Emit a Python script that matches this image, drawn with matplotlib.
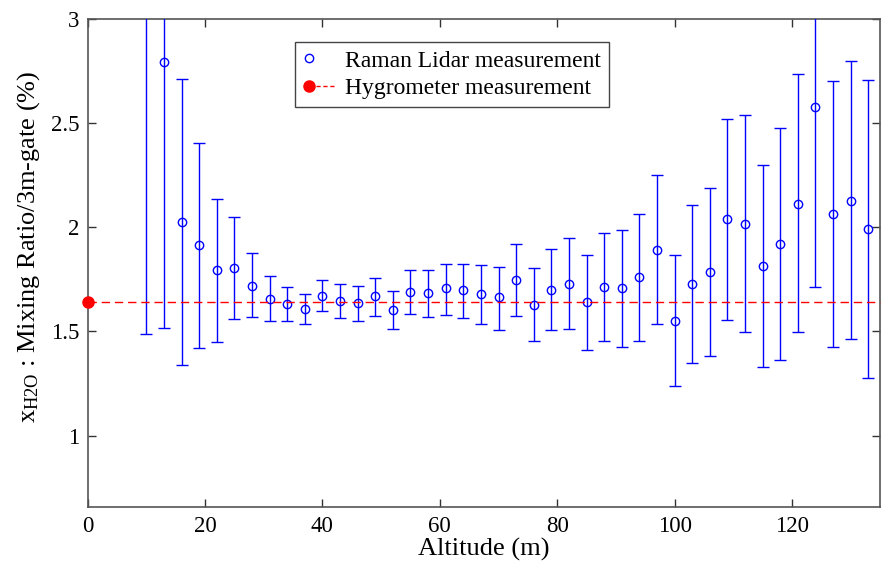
import matplotlib
matplotlib.use("Agg")
import matplotlib.pyplot as plt
import numpy as np
from matplotlib.lines import Line2D
from matplotlib.legend_handler import HandlerBase

plt.rcParams['font.family'] = ['Liberation Serif', 'DejaVu Serif']
plt.rcParams['mathtext.fontset'] = 'custom'
plt.rcParams['mathtext.rm'] = 'Liberation Serif'
plt.rcParams['mathtext.it'] = 'Liberation Serif:italic'

altitude = [10, 13, 16, 19, 22, 25, 28, 31, 34, 37, 40, 43, 46, 49, 52, 55, 58, 61, 64, 67, 70,
            73, 76, 79, 82, 85, 88, 91, 94, 97, 100, 103, 106, 109, 112, 115, 118, 121, 124, 127, 130, 133]
ratio = [3.30, 2.792, 2.027, 1.917, 1.796, 1.806, 1.720, 1.658, 1.634, 1.608, 1.672, 1.648, 1.638, 1.669,
         1.605, 1.691, 1.683, 1.707, 1.697, 1.678, 1.664, 1.748, 1.629, 1.700, 1.729, 1.643, 1.715, 1.710,
         1.763, 1.893, 1.551, 1.729, 1.786, 2.038, 2.017, 1.815, 1.922, 2.114, 2.576, 2.066, 2.128, 1.993]
lower = [1.486, 1.517, 1.339, 1.422, 1.450, 1.560, 1.567, 1.551, 1.551, 1.538, 1.597, 1.565, 1.551, 1.575,
         1.510, 1.584, 1.570, 1.581, 1.565, 1.538, 1.509, 1.576, 1.455, 1.508, 1.512, 1.412, 1.455, 1.426,
         1.455, 1.536, 1.239, 1.350, 1.383, 1.557, 1.495, 1.331, 1.364, 1.498, 1.712, 1.426, 1.465, 1.278]
upper = [5.10, 4.07, 2.710, 2.405, 2.137, 2.051, 1.877, 1.767, 1.715, 1.681, 1.748, 1.729, 1.720, 1.758,
         1.694, 1.796, 1.796, 1.826, 1.826, 1.821, 1.811, 1.922, 1.805, 1.896, 1.950, 1.868, 1.974, 1.987,
         2.066, 2.251, 1.868, 2.109, 2.191, 2.522, 2.541, 2.300, 2.479, 2.735, 3.44, 2.700, 2.797, 2.705]
hygrometer_value = 1.643

x = np.array(altitude)
y = np.array(ratio)
yerr = np.vstack([y - np.array(lower), np.array(upper) - y])

fig = plt.figure(figsize=(8.81, 5.63), dpi=100)
ax = fig.add_axes([0.0995, 0.0986, 0.8994, 0.8677])

ax.errorbar(x, y, yerr=yerr, fmt='o', mfc='none', mec='blue', ecolor='blue',
            ms=6, mew=1.0, elinewidth=1.0, capsize=4.5, capthick=1.0, zorder=3)
ax.plot([0, 135], [hygrometer_value, hygrometer_value], color='red', ls=(0, (6, 3.5)), lw=1.0,
        marker='o', ms=8, markevery=[0], mfc='red', mec='red', clip_on=False, zorder=4)

ax.set_xlim(0, 135)
ax.set_ylim(0.655, 3)
ax.set_xticks([0, 20, 40, 60, 80, 100, 120])
ax.set_yticks([1, 1.5, 2, 2.5, 3])
ax.set_yticklabels(['1', '1.5', '2', '2.5', '3'])
ax.tick_params(direction='in', length=6, width=1, labelsize=16.5, top=True, right=True, colors='#333333',
               labelcolor='black', pad=6)
for s in ax.spines.values():
    s.set_color('#555555')
    s.set_linewidth(1.2)

ax.set_xlabel('Altitude (m)', fontsize=19, labelpad=1)
ax.set_ylabel(r'x$_{\mathrm{H2O}}$ : Mixing Ratio/3m-gate (%)', fontsize=19)
ax.yaxis.set_label_coords(-0.058, 0.533)


class HygroHandler(HandlerBase):
    def create_artists(self, legend, orig_handle, xdescent, ydescent, width, height, fontsize, trans):
        yc = height / 2 - ydescent
        line = Line2D([-xdescent + 4, width - xdescent], [yc, yc], color='red', lw=1.0, ls=(0, (3, 2)))
        dot = Line2D([-xdescent + 4], [yc], marker='o', ms=8, color='red', ls='none')
        line.set_transform(trans)
        dot.set_transform(trans)
        return [line, dot]


class CircleHandler(HandlerBase):
    def create_artists(self, legend, orig_handle, xdescent, ydescent, width, height, fontsize, trans):
        yc = height / 2 - ydescent
        dot = Line2D([-xdescent + 4], [yc], marker='o', ms=6, mfc='none', mec='blue', mew=1.0, ls='none')
        dot.set_transform(trans)
        return [dot]


class RamanKey:
    pass


class HygroKey:
    pass


leg = ax.legend([RamanKey(), HygroKey()], ['Raman Lidar measurement', 'Hygrometer measurement'],
                handler_map={RamanKey: CircleHandler(), HygroKey: HygroHandler()},
                loc='upper left', bbox_to_anchor=(0.2616, 0.953), borderaxespad=0, fontsize=17,
                fancybox=False, edgecolor='#444444', framealpha=1, handlelength=1.3,
                handletextpad=0.45, borderpad=0.35, labelspacing=0.25)
leg.get_frame().set_linewidth(1.0)

fig.savefig('out.png', dpi=100)
